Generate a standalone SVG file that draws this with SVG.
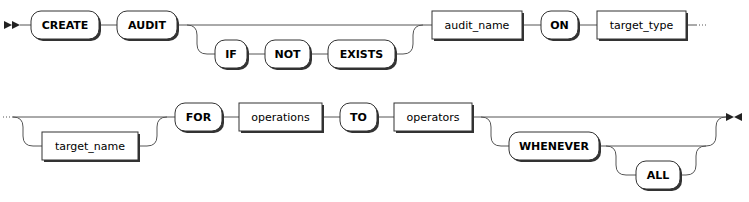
<svg xmlns="http://www.w3.org/2000/svg" width="749" height="202" viewBox="0 0 749 202">
<style>
.bg{fill:#ffffff}
.sh{fill:#333333}
.box{fill:#ffffff;stroke:#333333;stroke-width:1}
.t{font-family:"DejaVu Sans","Liberation Sans",sans-serif;font-size:11px;fill:#000000;text-anchor:middle}
.k{font-weight:bold}
.ln{fill:none;stroke:#555555;stroke-width:1}
.dot{fill:none;stroke:#555555;stroke-width:1;stroke-dasharray:1 2}
.mk{fill:#222222}
</style>
<rect class="bg" x="0" y="0" width="749" height="202"/>
<g id="connectors">
<polygon class="mk" points="12 25 4 21 4 29"/>
<polygon class="mk" points="20 25 12 21 12 29"/>
<path class="ln" d="M20 25H31M99 25H117M177 25H432M187 25q10 0 10 10v9q0 10 10 10h8M247 54H265M310 54H328M395 54h8q10 0 10 -10v-9q0 -10 10 -10M522 25H541M578 25H597M686 25H696"/>
<path class="dot" d="M696 25H708"/>
<path class="dot" d="M3 117H14"/>
<path class="ln" d="M13 117H175M13 117q10 0 10 10v9q0 10 10 10h9M138 146h9q10 0 10 -10v-9q0 -10 10 -10M222 117H239M322 117H340M377 117H394M472 117H726M481 117q10 0 10 10v9q0 10 10 10h8M599 146H706M606 146q10 0 10 10v9q0 10 10 10h10M680 175h6q10 0 10 -10v-9q0 -10 10 -10M706 146q10 0 10 -10v-9q0 -10 10 -10"/>
<polygon class="mk" points="734 117 726 113 726 121"/>
<polygon class="mk" points="734 117 742 113 742 121"/>
</g>
<g id="CREATE"><rect class="sh" x="33" y="13" width="68" height="28" rx="10"/><rect class="box" x="31" y="11" width="68" height="28" rx="10"/><text class="t k" x="65" y="29">CREATE</text></g>
<g id="AUDIT"><rect class="sh" x="119" y="13" width="60" height="28" rx="10"/><rect class="box" x="117" y="11" width="60" height="28" rx="10"/><text class="t k" x="147" y="29">AUDIT</text></g>
<g id="IF"><rect class="sh" x="217" y="42" width="32" height="28" rx="10"/><rect class="box" x="215" y="40" width="32" height="28" rx="10"/><text class="t k" x="231" y="58">IF</text></g>
<g id="NOT"><rect class="sh" x="267" y="42" width="45" height="28" rx="10"/><rect class="box" x="265" y="40" width="45" height="28" rx="10"/><text class="t k" x="287.5" y="58">NOT</text></g>
<g id="EXISTS"><rect class="sh" x="330" y="42" width="67" height="28" rx="10"/><rect class="box" x="328" y="40" width="67" height="28" rx="10"/><text class="t k" x="361.5" y="58">EXISTS</text></g>
<g id="audit_name"><rect class="sh" x="434" y="13" width="90" height="28"/><rect class="box" x="432" y="11" width="90" height="28"/><text class="t" x="477" y="29">audit_name</text></g>
<g id="ON"><rect class="sh" x="543" y="13" width="37" height="28" rx="10"/><rect class="box" x="541" y="11" width="37" height="28" rx="10"/><text class="t k" x="559.5" y="29">ON</text></g>
<g id="target_type"><rect class="sh" x="599" y="13" width="89" height="28"/><rect class="box" x="597" y="11" width="89" height="28"/><text class="t" x="641.5" y="29">target_type</text></g>
<g id="target_name"><rect class="sh" x="44" y="134" width="96" height="28"/><rect class="box" x="42" y="132" width="96" height="28"/><text class="t" x="90" y="150">target_name</text></g>
<g id="FOR"><rect class="sh" x="177" y="105" width="47" height="28" rx="10"/><rect class="box" x="175" y="103" width="47" height="28" rx="10"/><text class="t k" x="198.5" y="121">FOR</text></g>
<g id="operations"><rect class="sh" x="241" y="105" width="83" height="28"/><rect class="box" x="239" y="103" width="83" height="28"/><text class="t" x="280.5" y="121">operations</text></g>
<g id="TO"><rect class="sh" x="342" y="105" width="37" height="28" rx="10"/><rect class="box" x="340" y="103" width="37" height="28" rx="10"/><text class="t k" x="358.5" y="121">TO</text></g>
<g id="operators"><rect class="sh" x="396" y="105" width="78" height="28"/><rect class="box" x="394" y="103" width="78" height="28"/><text class="t" x="433" y="121">operators</text></g>
<g id="WHENEVER"><rect class="sh" x="511" y="134" width="90" height="28" rx="10"/><rect class="box" x="509" y="132" width="90" height="28" rx="10"/><text class="t k" x="554" y="150">WHENEVER</text></g>
<g id="ALL"><rect class="sh" x="638" y="163" width="44" height="28" rx="10"/><rect class="box" x="636" y="161" width="44" height="28" rx="10"/><text class="t k" x="658" y="179">ALL</text></g>
</svg>
